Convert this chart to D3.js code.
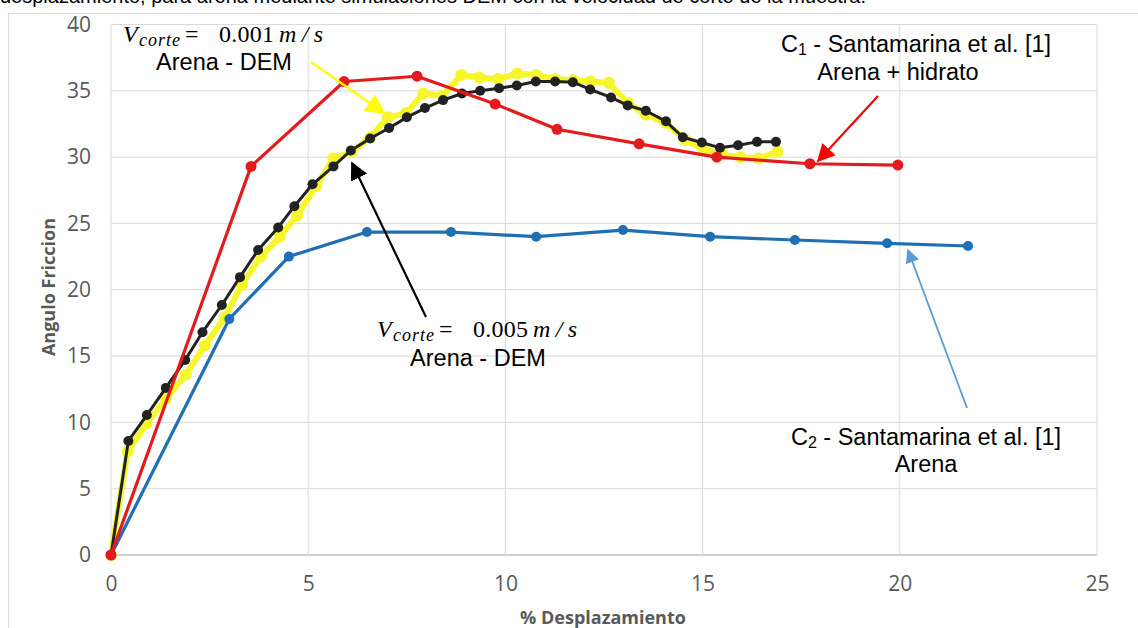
<!DOCTYPE html>
<html>
<head>
<meta charset="utf-8">
<script src="https://cdn.jsdelivr.net/npm/d3@7"></script>
<style>
  html, body { margin: 0; padding: 0; background: #fff; }
  svg { display: block; }
</style>
</head>
<body>
<svg id="chart" width="1138" height="628"></svg>
<script>
// Shear test: friction angle versus % displacement
const xTicks = [0, 5, 10, 15, 20, 25];
const yTicks = [0, 5, 10, 15, 20, 25, 30, 35, 40];

// C2 - Santamarina et al. [1], sand
const arenaX = [0, 3.0, 4.51, 6.49, 8.62, 10.78, 12.98, 15.19, 17.34, 19.68, 21.73];
const arenaY = [0, 17.8, 22.5, 24.35, 24.35, 24.0, 24.5, 24.0, 23.75, 23.5, 23.3];

// C1 - Santamarina et al. [1], sand + hydrate
const hidratoX = [0, 3.55, 5.91, 7.76, 9.74, 11.31, 13.39, 15.36, 17.72, 19.95];
const hidratoY = [0, 29.3, 35.7, 36.1, 34.0, 32.1, 31.0, 30.0, 29.5, 29.4];

// DEM, shear rate 0.001 m/s
const dem001X = [0, 0.42, 0.9, 1.4, 1.9, 2.38, 2.88, 3.32, 3.8, 4.28, 4.72, 5.2, 5.64, 6.1, 6.58, 7.02, 7.48, 7.92, 8.4, 8.88, 9.34, 9.82, 10.3, 10.78, 11.26, 11.72, 12.16, 12.62, 13.1, 13.56, 14.06, 14.56, 15.02, 15.5, 15.96, 16.42, 16.9];
const dem001Y = [0, 7.8, 9.9, 11.8, 13.6, 15.8, 17.9, 20.4, 22.5, 24.0, 25.6, 27.8, 29.9, 30.4, 31.5, 33.0, 33.3, 34.8, 34.6, 36.2, 36.0, 35.9, 36.3, 36.2, 35.9, 35.8, 35.7, 35.6, 34.1, 33.2, 32.6, 31.3, 30.6, 30.2, 30.0, 29.9, 30.4];

// DEM, shear rate 0.005 m/s
const dem005X = [0, 0.44, 0.91, 1.39, 1.88, 2.32, 2.81, 3.27, 3.73, 4.24, 4.65, 5.11, 5.64, 6.08, 6.57, 7.05, 7.5, 7.96, 8.42, 8.9, 9.36, 9.84, 10.29, 10.77, 11.26, 11.71, 12.15, 12.68, 13.1, 13.56, 14.07, 14.5, 14.98, 15.44, 15.9, 16.38, 16.86];
const dem005Y = [0, 8.6, 10.55, 12.6, 14.7, 16.8, 18.85, 20.95, 23.0, 24.7, 26.3, 27.95, 29.3, 30.5, 31.4, 32.2, 33.0, 33.7, 34.3, 34.8, 35.0, 35.2, 35.4, 35.7, 35.7, 35.65, 35.1, 34.5, 33.9, 33.5, 32.7, 31.5, 31.1, 30.7, 30.9, 31.15, 31.15];

const zip = (xs, ys) => xs.map((x, i) => ({ x, y: ys[i] }));

const svg = d3.select("#chart");
const x = d3.scaleLinear().domain([0, 25]).range([111, 1097]);
const y = d3.scaleLinear().domain([0, 40]).range([555, 24.5]);

const defs = svg.append("defs");
defs.append("filter").attr("id", "soft")
  .attr("x", "-5%").attr("y", "-5%").attr("width", "110%").attr("height", "110%")
  .append("feGaussianBlur").attr("stdDeviation", 0.7);

function arrowHead(id, color, size) {
  defs.append("marker")
    .attr("id", id)
    .attr("viewBox", "0 0 10 10")
    .attr("refX", 9).attr("refY", 5)
    .attr("markerUnits", "userSpaceOnUse")
    .attr("markerWidth", size).attr("markerHeight", size)
    .attr("orient", "auto")
    .append("path").attr("d", "M0,0 L10,5 L0,10 Z").attr("fill", color);
}
arrowHead("ah-yellow", "#ffff00", 20);
arrowHead("ah-black", "#000000", 18);
arrowHead("ah-red", "#ff0000", 18);
arrowHead("ah-blue", "#5b9bd5", 14);

// Last line of the page text above the chart (only its lower edge is in view)
svg.append("text")
  .attr("x", 0).attr("y", 2.5)
  .attr("font-family", "Liberation Sans, Arial, sans-serif")
  .attr("font-size", 20).attr("fill", "#000")
  .text("desplazamiento, para arena mediante simulaciones DEM con la velocidad de corte de la muestra.");

// Chart area frame
svg.append("rect")
  .attr("x", 8.5).attr("y", 13.5).attr("width", 1140).attr("height", 630)
  .attr("fill", "#fff").attr("stroke", "#d9d9d9");

// Gridlines
const grid = svg.append("g");
grid.selectAll("line.h").data(yTicks).join("line")
  .attr("x1", x(0)).attr("x2", x(25))
  .attr("y1", d => y(d)).attr("y2", d => y(d))
  .attr("stroke", d => d === 0 ? "#bfbfbf" : "#d9d9d9").attr("stroke-width", d => d === 0 ? 1.5 : 1);
grid.selectAll("line.v").data(xTicks).join("line")
  .attr("y1", y(0)).attr("y2", y(40))
  .attr("x1", d => x(d)).attr("x2", d => x(d))
  .attr("stroke", "#d9d9d9").attr("stroke-width", 1);

// Axes
const tickFont = "Liberation Sans Narrow, Open Sans, sans-serif";
const xAxis = svg.append("g").attr("transform", `translate(0,${y(0)})`)
  .call(d3.axisBottom(x).tickValues(xTicks).tickSize(0).tickPadding(21).tickFormat(d3.format("d")));
const yAxis = svg.append("g").attr("transform", `translate(${x(0)},0)`)
  .call(d3.axisLeft(y).tickValues(yTicks).tickSize(0).tickPadding(20).tickFormat(d3.format("d")));
[xAxis, yAxis].forEach(a => {
  a.select(".domain").remove();
  a.selectAll("text").attr("font-family", tickFont).attr("font-size", 21).attr("fill", "#595959");
});

// Axis titles
const titleFont = "Open Sans, Liberation Sans, sans-serif";
svg.append("text")
  .attr("x", 603).attr("y", 624).attr("text-anchor", "middle")
  .attr("font-family", titleFont).attr("font-size", 18).attr("font-weight", "bold").attr("fill", "#595959")
  .text("% Desplazamiento");
svg.append("text")
  .attr("transform", `translate(55,287) rotate(-90)`).attr("text-anchor", "middle")
  .attr("font-family", titleFont).attr("font-size", 18).attr("font-weight", "bold").attr("fill", "#595959")
  .text("Angulo Friccion");

// Series
const line = d3.line().x(d => x(d.x)).y(d => y(d.y));
function series(data, color, width, r) {
  const g = svg.append("g");
  g.append("path").datum(data).attr("d", line)
    .attr("fill", "none").attr("stroke", color).attr("stroke-width", width)
    .attr("stroke-linejoin", "round");
  g.selectAll("circle").data(data).join("circle")
    .attr("cx", d => x(d.x)).attr("cy", d => y(d.y)).attr("r", r).attr("fill", color);
  return g;
}

series(zip(dem001X, dem001Y), "#f6f62a", 6, 6).attr("filter", "url(#soft)");
series(zip(dem005X, dem005Y), "#222222", 3, 5);
series(zip(arenaX, arenaY), "#1f6fb4", 3.2, 5);
series(zip(hidratoX, hidratoY), "#e41a1c", 3.2, 5.5);

// Annotation arrows
function arrow(x1, y1, x2, y2, color, w, id) {
  svg.append("line")
    .attr("x1", x1).attr("y1", y1).attr("x2", x2).attr("y2", y2)
    .attr("stroke", color).attr("stroke-width", w)
    .attr("marker-end", `url(#${id})`);
}
arrow(311, 62, 384, 113, "#ffff00", 2.2, "ah-yellow");
arrow(426, 317, 352, 163, "#000000", 2.2, "ah-black");
arrow(878, 96, 818, 161, "#ff0000", 2.2, "ah-red");
arrow(967, 408, 908, 250, "#5b9bd5", 1.8, "ah-blue");

// Annotation labels
const mathFont = "Liberation Serif, DejaVu Serif, serif";
const sansFont = "Liberation Sans, Arial, sans-serif";
// Equation pieces laid out with their own horizontal offsets
function mathLabel(x0, y0, value) {
  const t = svg.append("text").attr("y", y0)
    .attr("font-family", mathFont).attr("font-size", 24).attr("fill", "#000");
  t.append("tspan").attr("x", x0).attr("font-style", "italic").text("V");
  t.append("tspan").attr("x", x0 + 16).attr("dy", 4).attr("font-style", "italic").attr("font-size", 18)
    .attr("textLength", 41).text("corte");
  t.append("tspan").attr("x", x0 + 62).attr("dy", -4).text("=");
  t.append("tspan").attr("x", x0 + 96).attr("textLength", 55).text(value);
  t.append("tspan").attr("x", x0 + 156).attr("font-style", "italic").attr("textLength", 44).text("m/s");
}
function plainLabel(xPos, yPos, txt) {
  svg.append("text").attr("x", xPos).attr("y", yPos).attr("text-anchor", "middle")
    .attr("font-family", sansFont).attr("font-size", 23.5).attr("fill", "#000").text(txt);
}
function refLabel(xPos, yPos, sub) {
  const t = svg.append("text").attr("x", xPos).attr("y", yPos).attr("text-anchor", "middle")
    .attr("font-family", sansFont).attr("font-size", 23.5).attr("fill", "#000");
  t.append("tspan").text("C");
  t.append("tspan").attr("font-size", 16).attr("dy", 3).text(sub);
  t.append("tspan").attr("dy", -3).text(" - Santamarina et al. [1]");
}

mathLabel(123, 42, "0.001");
plainLabel(224, 70, "Arena - DEM");
mathLabel(377, 337, "0.005");
plainLabel(478, 366, "Arena - DEM");
refLabel(916, 52, "1");
plainLabel(898, 80, "Arena + hidrato");
refLabel(926, 445, "2");
plainLabel(926, 472, "Arena");
</script>
</body>
</html>
